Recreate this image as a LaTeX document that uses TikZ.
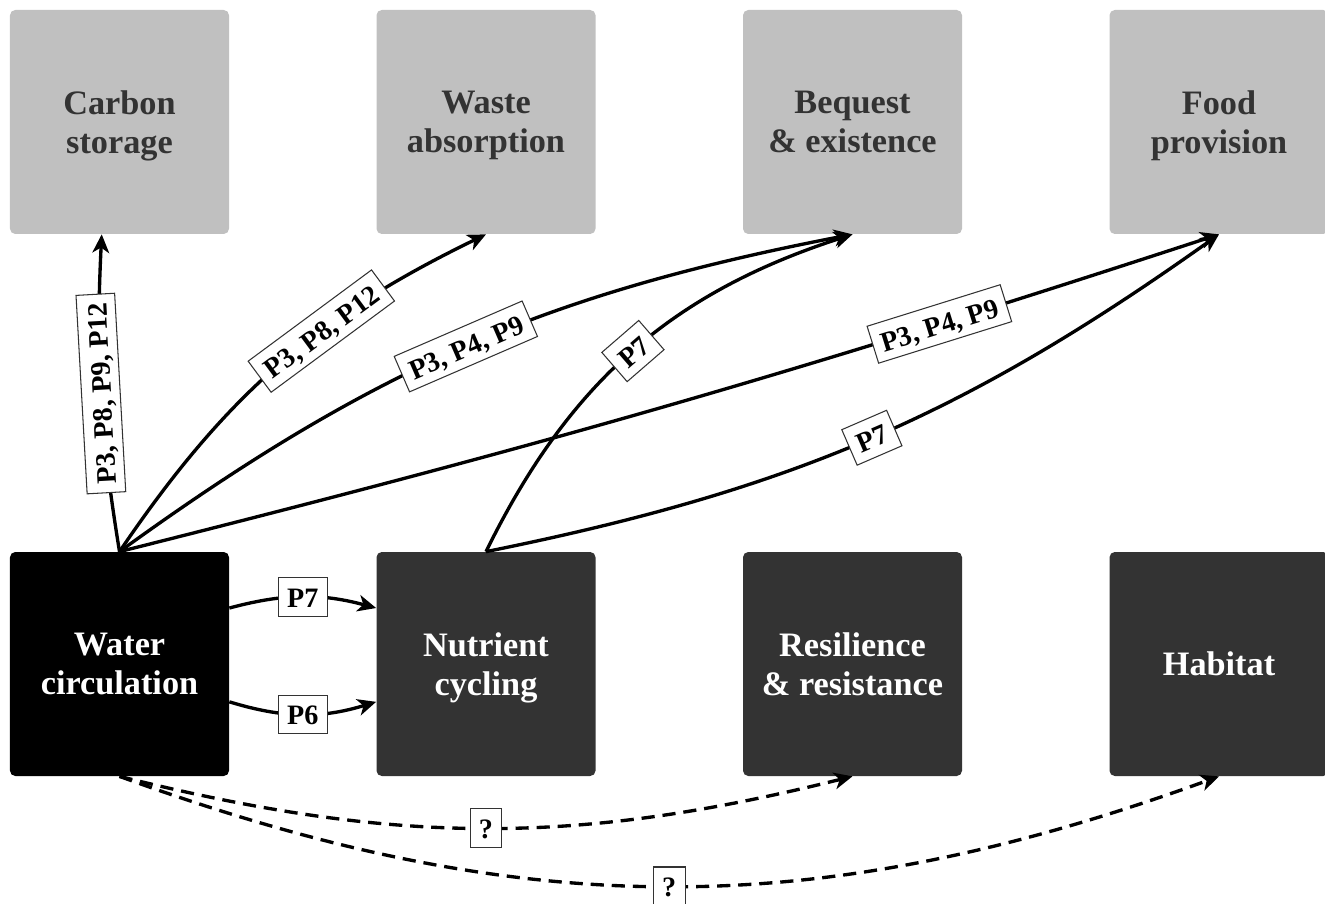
\documentclass[tikz,border=0pt]{standalone}
\usepackage{fontspec}
\setmainfont{Liberation Serif}
\usetikzlibrary{arrows.meta}
\definecolor{servgray}{HTML}{C0C0C0}
\definecolor{procgray}{HTML}{333333}

\begin{document}
\begin{tikzpicture}[
        box/.style={rounded corners=3pt, minimum width=4.38cm, minimum height=4.48cm, inner sep=0pt, align=center, text depth=0pt, font=\fontsize{19.5}{22}\selectfont\bfseries},
        service/.style={box, fill=servgray, text=procgray},
        process/.style={box, fill=procgray, text=white},
        lbl/.style={solid, draw=black!80, line width=0.6pt, fill=white, inner xsep=5pt, inner ysep=4pt, text height=13pt, text depth=1pt, font=\fontsize{16}{18}\selectfont\bfseries},
        link/.style={line width=1.9pt, -{Stealth[length=10.5pt, width=9.5pt, inset=3pt]}},
        maybe/.style={link, dash pattern=on 7.5pt off 4.5pt}
    ]
        \useasboundingbox (0,0) rectangle (26.5,18.06);
        % services (top row)
        \foreach \name/\i/\txt in {cs/0/{Carbon\\storage}, wa/1/{Waste\\absorption}, bq/2/{Bequest\\\& existence}, fp/3/{Food\\provision}}{
            \node[service] (\name) at (2.39+7.33*\i, 15.62) {\txt};
        }
        % processes (bottom row)
        \foreach \name/\i/\txt in {nc/1/{Nutrient\\cycling}, rr/2/{Resilience\\\& resistance}, hb/3/{Habitat}}{
            \node[process] (\name) at (2.39+7.33*\i, 4.78) {\txt};
        }
        \node[process, fill=black] (wc) at (2.39, 4.78) {Water\\circulation};

        \draw[link] (wc.north) to[bend left=6] node[lbl, sloped, allow upside down] {P3, P8, P9, P12} (cs.261);
        \draw[link] (wc.north) to[bend left=15] node[lbl, sloped, pos=0.62] {P3, P8, P12} (wa.south);
        \draw[link] (wc.north) to[bend left=12.5] node[lbl, sloped] {P3, P4, P9} (bq.south);
        \draw[link] (wc.north) to[bend right=2] node[lbl, sloped, pos=0.76] {P3, P4, P9} (fp.south);
        \draw[link] (nc.north) to[bend left=23] node[lbl, sloped] {P7} (bq.south);
        \draw[link] (nc.north) to[bend right=12] node[lbl, sloped] {P7} (fp.south);
        \draw[link] (wc.27) to[bend left=15] node[lbl] {P7} (nc.153);
        \draw[link] (wc.-19) to[bend right=17] node[lbl] {P6} (nc.-161);
        % unknown links
        \draw[maybe] (wc.south) to[bend right=14] node[lbl] {?} (rr.south);
        \draw[maybe] (wc.south) to[bend right=20] node[lbl] {?} (hb.south);
    \end{tikzpicture}
\end{document}
